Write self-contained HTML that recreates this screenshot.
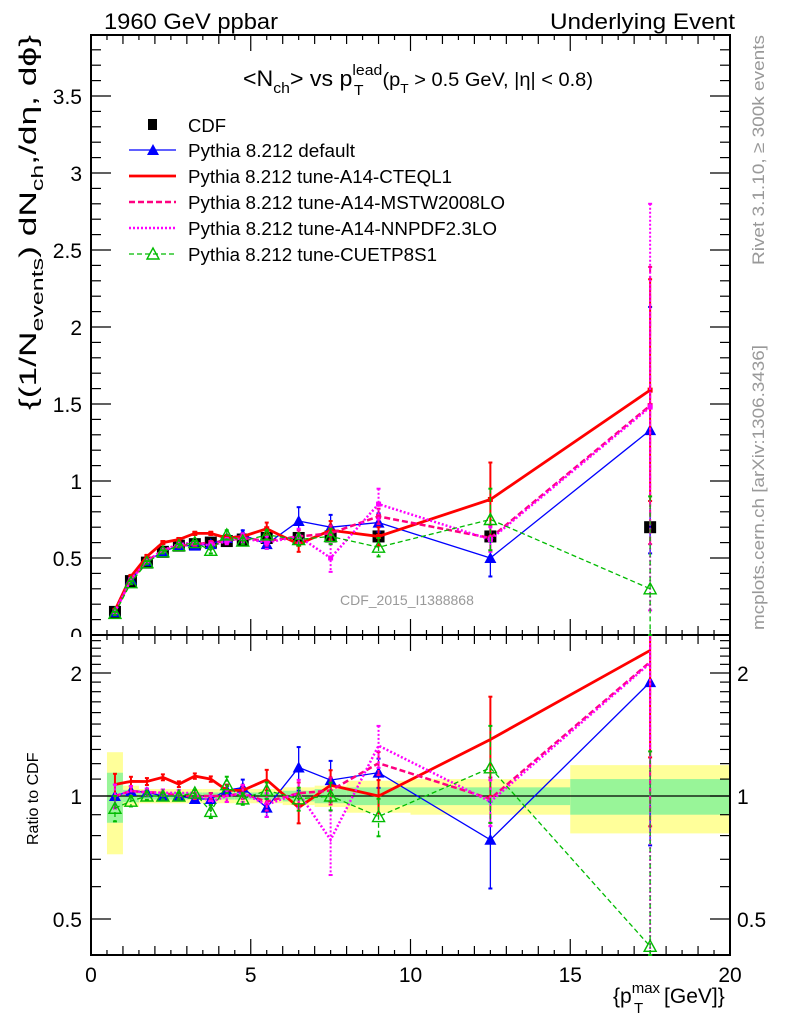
<!DOCTYPE html>
<html><head><meta charset="utf-8"><style>
html,body{margin:0;padding:0;background:#fff}
svg{display:block;font-family:"Liberation Sans",sans-serif}
</style></head><body>
<svg id="chart" width="786" height="1024" viewBox="0 0 786 1024" xmlns="http://www.w3.org/2000/svg">
<g id="bands"></g>
<g id="axes"></g>
<g id="series"></g>
<g id="texts">
<text x="104" y="29" font-size="22" textLength="174" lengthAdjust="spacingAndGlyphs">1960 GeV ppbar</text>
<text x="550" y="29" font-size="22" textLength="185" lengthAdjust="spacingAndGlyphs">Underlying Event</text>
<text x="243" y="86" font-size="22" textLength="350" lengthAdjust="spacingAndGlyphs">&lt;N<tspan font-size="15" dy="7">ch</tspan><tspan dy="-7">&gt; vs p</tspan><tspan font-size="15" dy="-11">lead</tspan><tspan font-size="15" dx="-27" dy="20">T</tspan><tspan font-size="19" dx="18" dy="-9">(p</tspan><tspan font-size="13" dy="7">T</tspan><tspan font-size="19" dy="-7"> &gt; 0.5 GeV, |η| &lt; 0.8)</tspan></text>
<text transform="translate(36,410) rotate(-90)" font-size="24" textLength="375" lengthAdjust="spacingAndGlyphs">{(1/N<tspan font-size="17" dy="7">events</tspan><tspan dy="-7">) dN</tspan><tspan font-size="17" dy="7">ch</tspan><tspan dy="-7">,/dη, dϕ}</tspan></text>
<text transform="translate(38,845) rotate(-90)" font-size="16">Ratio to CDF</text>
<text x="613" y="1003" font-size="21">{p<tspan font-size="15" dy="-10">max</tspan><tspan font-size="15" dx="-26" dy="20">T</tspan><tspan dx="15" dy="-10"> [GeV]}</tspan></text>
<text transform="translate(764,265) rotate(-90)" font-size="17" fill="#999" textLength="230" lengthAdjust="spacingAndGlyphs">Rivet 3.1.10, ≥ 300k events</text>
<text transform="translate(764,630) rotate(-90)" font-size="17" fill="#999" textLength="285" lengthAdjust="spacingAndGlyphs">mcplots.cern.ch [arXiv:1306.3436]</text>
<text x="340" y="605" font-size="14" fill="#999">CDF_2015_I1388868</text>
</g>
<g id="legend"></g>
</svg>
<script>
const xEdges=[0.5,1,1.5,2,2.5,3,3.5,4,4.5,5,6,7,8,10,15,20];
const xCenters=[0.75,1.25,1.75,2.25,2.75,3.25,3.75,4.25,4.75,5.5,6.5,7.5,9,12.5,17.5];
const cdfVals=[0.15,0.35,0.47,0.54,0.58,0.59,0.60,0.61,0.62,0.63,0.63,0.64,0.64,0.64,0.70];
const cdfStatRel=[0.14,0.035,0.02,0.02,0.02,0.02,0.02,0.02,0.02,0.02,0.03,0.04,0.05,0.05,0.10];
const cdfTotRel=[0.28,0.06,0.04,0.04,0.04,0.04,0.04,0.04,0.04,0.04,0.05,0.06,0.09,0.10,0.19];
const defVals=[0.15,0.36,0.48,0.54,0.58,0.58,0.59,0.63,0.65,0.59,0.74,0.70,0.73,0.50,1.33];
const defErr=[0.01,0.01,0.01,0.01,0.01,0.01,0.02,0.02,0.03,0.03,0.09,0.08,0.06,0.12,0.80];
const cteqVals=[0.16,0.38,0.51,0.60,0.62,0.66,0.66,0.63,0.64,0.69,0.59,0.68,0.64,0.88,1.59];
const cteqErr=[0.01,0.01,0.01,0.01,0.01,0.01,0.01,0.02,0.02,0.04,0.05,0.06,0.06,0.24,0.72];
const mstwVals=[0.15,0.36,0.48,0.55,0.58,0.59,0.60,0.61,0.63,0.61,0.64,0.66,0.77,0.63,1.49];
const mstwErr=[0.01,0.01,0.01,0.01,0.01,0.01,0.01,0.02,0.02,0.03,0.04,0.05,0.05,0.08,0.9];
const nnpdfVals=[0.15,0.36,0.48,0.55,0.59,0.60,0.58,0.61,0.63,0.60,0.64,0.50,0.85,0.62,1.48];
const nnpdfErr=[0.01,0.01,0.01,0.01,0.01,0.01,0.02,0.02,0.03,0.04,0.05,0.09,0.10,0.08,1.32];
const cuetVals=[0.14,0.34,0.47,0.54,0.58,0.60,0.55,0.65,0.61,0.65,0.62,0.64,0.57,0.75,0.30];
const cuetErr=[0.01,0.01,0.01,0.01,0.01,0.01,0.02,0.03,0.02,0.03,0.04,0.05,0.06,0.20,0.60];
const mainYTicks=[0,0.5,1,1.5,2,2.5,3,3.5];
const mainYLabels=["0","0.5","1","1.5","2","2.5","3","3.5"];
const ratioYTicks=[0.5,1,2];
const ratioYLabels=["0.5","1","2"];
const xTicks=[0,5,10,15,20];
const xLabels=["0","5","10","15","20"];

const NS="http://www.w3.org/2000/svg";
const L=91,R=730,MT=35,MB=635,RT=635,RB=955;
const X=v=>L+(v/20)*(R-L);
const Y=v=>MB-v*154;
const RY=r=>796-Math.log2(r)*123;
const RYc=r=>Math.max(RT,Math.min(RB,RY(Math.max(r,0.01))));
const Yc=v=>Math.max(MT,Math.min(MB,Y(v)));
function mk(tag,attrs,parent){const e=document.createElementNS(NS,tag);for(const k in attrs)e.setAttribute(k,attrs[k]);parent.appendChild(e);return e;}
const bands=document.getElementById('bands'),axes=document.getElementById('axes'),series=document.getElementById('series'),legend=document.getElementById('legend');

for(let i=0;i<xCenters.length;i++){
  const x0=X(xEdges[i]),x1=X(xEdges[i+1]);
  let r=mk('rect',{x:x0,y:RY(1+cdfTotRel[i]),width:x1-x0,height:RY(1-cdfTotRel[i])-RY(1+cdfTotRel[i]),fill:'#ffff9a'},bands);
  
  
  let g=mk('rect',{x:x0,y:RY(1+cdfStatRel[i]),width:x1-x0,height:RY(1-cdfStatRel[i])-RY(1+cdfStatRel[i]),fill:'#98f598'},bands);
  
  
}
mk('line',{x1:L,x2:R,y1:RY(1),y2:RY(1),stroke:'#000','stroke-width':1.3},bands);

mk('rect',{x:L,y:MT,width:R-L,height:MB-MT,fill:'none',stroke:'#000','stroke-width':2},axes);
mk('rect',{x:L,y:RT,width:R-L,height:RB-RT,fill:'none',stroke:'#000','stroke-width':2},axes);
for(let v=0;v<=20;v+=0.5){
  const major=v%5===0, mid=v%1===0;
  const len=major?16:(mid?9:5);
  [[MB,-1],[MT,1],[RB,-1],[RT,1]].forEach(([y,d])=>{
    mk('line',{x1:X(v),x2:X(v),y1:y,y2:y+d*len,stroke:'#000','stroke-width':1.2},axes);
  });
}
xTicks.forEach((v,i)=>{const t=mk('text',{x:X(v),y:982,'font-size':21,'text-anchor':'middle'},axes);t.textContent=xLabels[i];

});
for(let k=0;k<=38;k++){const v=k/10;const major=k%5===0;const len=major?20:10;
  mk('line',{x1:L,x2:L+len,y1:Y(v),y2:Y(v),stroke:'#000','stroke-width':1.2},axes);
  mk('line',{x1:R,x2:R-len,y1:Y(v),y2:Y(v),stroke:'#000','stroke-width':1.2},axes);}
mainYTicks.forEach((v,i)=>{const t=mk('text',{x:82,y:Y(v)+8,'font-size':21,'text-anchor':'end'},axes);t.textContent=mainYLabels[i];

});
mk('rect',{x:50,y:637,width:40,height:16,fill:'#fff'},axes);
const rminor=[0.5,0.6,0.7,0.8,0.9,1,1.1,1.2,1.3,1.4,1.5,1.6,1.7,1.8,1.9,2,2.1,2.2,2.3,2.4];
rminor.forEach(v=>{const major=(v===0.5||v===1||v===2);const len=major?20:10;
  mk('line',{x1:L,x2:L+len,y1:RY(v),y2:RY(v),stroke:'#000','stroke-width':1.2},axes);
  mk('line',{x1:R,x2:R-len,y1:RY(v),y2:RY(v),stroke:'#000','stroke-width':1.2},axes);});
ratioYTicks.forEach((v,i)=>{
  const t=mk('text',{x:82,y:RY(v)+8,'font-size':21,'text-anchor':'end'},axes);t.textContent=ratioYLabels[i];
  
  
  const t2=mk('text',{x:737,y:RY(v)+8,'font-size':21},axes);t2.textContent=ratioYLabels[i];
  
  
});

const defs=[
 {name:'pythia-default',vals:defVals,err:defErr,color:'#0000ff',w:1.3,dash:'',marker:'tri'},
 {name:'pythia-a14-cteql1',vals:cteqVals,err:cteqErr,color:'#ff0000',w:2.8,dash:'',marker:'sq'},
 {name:'pythia-a14-mstw2008lo',vals:mstwVals,err:mstwErr,color:'#ff0080',w:2.5,dash:'6,3',marker:'sq'},
 {name:'pythia-a14-nnpdf23lo',vals:nnpdfVals,err:nnpdfErr,color:'#ff00ff',w:2.5,dash:'2,2',marker:'sq'},
 {name:'pythia-cuetp8s1',vals:cuetVals,err:cuetErr,color:'#00bb00',w:1.3,dash:'5,3',marker:'otri'}
];
function marker(type,x,y,c,g,nm){
  let e;
  if(type==='tri') e=mk('polygon',{points:`${x},${y-6} ${x-6},${y+5} ${x+6},${y+5}`,fill:c},g);
  else if(type==='otri') e=mk('polygon',{points:`${x},${y-6} ${x-6},${y+5} ${x+6},${y+5}`,fill:'none',stroke:c,'stroke-width':1.4},g);
  else e=mk('rect',{x:x-2.5,y:y-2.5,width:5,height:5,fill:c},g);
  
  
}
const cg=mk('g',{},series);


xCenters.forEach((x,i)=>{
  const s=mk('rect',{x:X(x)-6,y:Y(cdfVals[i])-6,width:12,height:12,fill:'#000'},cg);
  
  
});
defs.forEach(d=>{
  const g=mk('g',{},series);
  
  
  const pts=xCenters.map((x,i)=>X(x)+','+Y(d.vals[i])).join(' ');
  mk('polyline',{points:pts,fill:'none',stroke:d.color,'stroke-width':d.w,'stroke-dasharray':d.dash},g);
  const rpts=xCenters.map((x,i)=>X(x)+','+RYc(d.vals[i]/cdfVals[i])).join(' ');
  const rl=mk('polyline',{points:rpts,fill:'none',stroke:d.color,'stroke-width':d.w,'stroke-dasharray':d.dash},g);
  
  
  xCenters.forEach((x,i)=>{
    const v=d.vals[i],e=d.err[i],px=X(x);
    mk('line',{x1:px,x2:px,y1:Yc(v+e),y2:Yc(v-e),stroke:d.color,'stroke-width':Math.min(d.w,2),'stroke-dasharray':d.dash},g);
    mk('line',{x1:px-2,x2:px+2,y1:Yc(v+e),y2:Yc(v+e),stroke:d.color,'stroke-width':2},g);
    mk('line',{x1:px-2,x2:px+2,y1:Yc(v-e),y2:Yc(v-e),stroke:d.color,'stroke-width':2},g);
    marker(d.marker,px,Y(v),d.color,g,d.name+'-point');
    const c=cdfVals[i],r=v/c,re=e/c;
    mk('line',{x1:px,x2:px,y1:RYc(r+re),y2:RYc(r-re),stroke:d.color,'stroke-width':Math.min(d.w,2),'stroke-dasharray':d.dash},g);
    mk('line',{x1:px-2,x2:px+2,y1:RYc(r+re),y2:RYc(r+re),stroke:d.color,'stroke-width':2},g);
    mk('line',{x1:px-2,x2:px+2,y1:RYc(r-re),y2:RYc(r-re),stroke:d.color,'stroke-width':2},g);
    if(d.marker!=='sq') marker(d.marker,px,RY(r),d.color,g,d.name+'-ratio-point');
  });
});
const lx1=129,lx2=176,lt=188;
const e0=mk('g',{},legend);


mk('rect',{x:148,y:119,width:9,height:11,fill:'#000'},e0);
let t0=mk('text',{x:lt,y:132,'font-size':18,textLength:38,lengthAdjust:'spacingAndGlyphs'},e0);t0.textContent='CDF';
const lnames=['Pythia 8.212 default','Pythia 8.212 tune-A14-CTEQL1','Pythia 8.212 tune-A14-MSTW2008LO','Pythia 8.212 tune-A14-NNPDF2.3LO','Pythia 8.212 tune-CUETP8S1'];
const lwidths=[167,264,317,309,249];
defs.forEach((d,i)=>{
  const y=150+i*26;
  const g=mk('g',{},legend);
  
  
  mk('line',{x1:lx1,x2:lx2,y1:y,y2:y,stroke:d.color,'stroke-width':d.w,'stroke-dasharray':d.dash},g);
  if(d.marker!=='sq') marker(d.marker,153,y,d.color,g,'legend-marker');
  const t=mk('text',{x:lt,y:y+7,'font-size':18,textLength:lwidths[i],lengthAdjust:'spacingAndGlyphs'},g);t.textContent=lnames[i];
});
</script>
</body></html>
